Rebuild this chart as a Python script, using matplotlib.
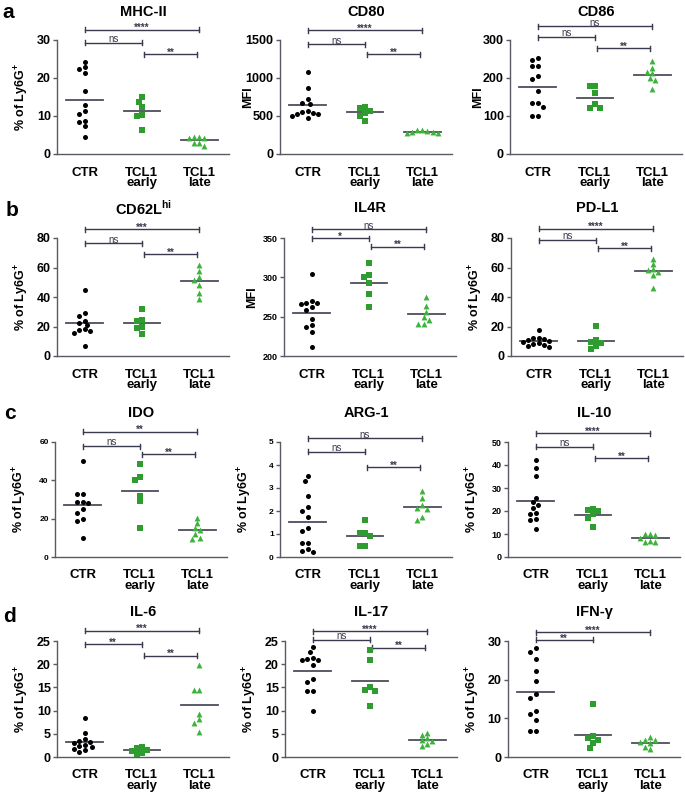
import matplotlib
matplotlib.use("Agg")
import matplotlib.pyplot as plt
import numpy as np

plt.rcParams['font.family'] = ['Liberation Sans', 'DejaVu Sans']
plt.rcParams['font.weight'] = 'bold'
plt.rcParams['mathtext.fontset'] = 'custom'
plt.rcParams['mathtext.rm'] = 'Liberation Sans:bold'
plt.rcParams['mathtext.bf'] = 'Liberation Sans:bold'

groups = ["CTR", "TCL1\nearly", "TCL1\nlate"]
PCT = "% of Ly6G$^{+}$"

# valores (CTR / TCL1 early / TCL1 late)
mhc2_ctr = [24.2, 22.8, 22.3, 21.2, 16.5, 12.9, 11.2, 10.5, 8.8, 8.5, 7.4, 4.5]
mhc2_early = [15.0, 13.8, 12.5, 10.3, 9.9, 6.2]
mhc2_late = [4.5, 4.2, 4.4, 4.3, 3.0, 2.1, 2.8]

cd80_ctr = [1080, 870, 720, 670, 660, 560, 550, 540, 530, 520, 500, 480]
cd80_early = [620, 610, 570, 540, 500, 440]
cd80_late = [320, 300, 290, 280, 280, 290, 310]

cd86_ctr = [252, 248, 232, 232, 206, 198, 166, 133, 134, 125, 99, 99]
cd86_early = [178, 178, 160, 132, 121, 121]
cd86_late = [244, 226, 212, 215, 200, 196, 170]

cd62l_ctr = [44.5, 29, 27, 24, 22.5, 21, 18, 17.5, 17, 15.5, 7]
cd62l_early = [32, 24.5, 23.5, 20, 15, 19]
cd62l_late = [62, 57.5, 53.5, 51.5, 48, 43, 38.5]

il4r_ctr = [304, 270, 268, 267, 266, 262, 258, 247, 240, 237, 231, 212]
il4r_early = [318, 303, 301, 293, 279, 262]
il4r_late = [275, 264, 256, 250, 246, 241, 241]

pdl1_ctr = [17.5, 12.5, 12, 11.5, 11, 10, 9.5, 9, 8, 7.5, 6.5, 6]
pdl1_early = [20.5, 11, 9.5, 8.5, 6.5, 5]
pdl1_late = [66, 62.5, 59, 58, 57, 55, 46]

ido_ctr = [50, 33, 33, 28.5, 28.5, 28, 25, 23, 19.7, 19, 10]
ido_early = [48.5, 42, 40, 32, 29, 15]
ido_late = [20.5, 17.5, 15, 14, 12, 10, 9.5]

arg1_ctr = [3.52, 3.32, 2.65, 2.18, 2.02, 1.72, 1.28, 1.15, 0.62, 0.6, 0.35, 0.28, 0.22]
arg1_early = [1.6, 1.05, 1.05, 0.9, 0.5, 0.5]
arg1_late = [2.87, 2.58, 2.26, 2.12, 2.1, 1.76, 1.59]

il10_ctr = [42.1, 38.9, 35.2, 25.6, 23.7, 22.7, 21.3, 19.1, 18.5, 16.7, 15.9, 12.2]
il10_early = [21, 20.5, 20, 18.5, 17, 13]
il10_late = [10.2, 9.9, 9.6, 8.3, 6.9, 6.6, 6.5]

il6_ctr = [8.4, 5.1, 3.9, 3.5, 3.2, 3.0, 2.6, 2.4, 2.2, 1.8, 1.5, 1.0]
il6_early = [2.2, 1.9, 1.5, 1.3, 0.9, 0.7]
il6_late = [19.9, 14.4, 14.4, 9.3, 8.2, 7.3, 5.3]

il17_ctr = [23.6, 22.6, 21.4, 21.2, 21.0, 20.8, 19.9, 16.8, 16.2, 14.3, 14.3, 9.9]
il17_early = [23.1, 20.8, 15, 14.4, 14.2, 11]
il17_late = [5.2, 4.8, 4.1, 3.6, 3.4, 2.9, 2.3]

ifng_ctr = [28.1, 27.2, 25.4, 22.3, 19.7, 16.3, 15.3, 12, 11.1, 9.6, 6.7, 6.7]
ifng_early = [13.7, 5.4, 4.9, 4.5, 3.6, 2.4]
ifng_late = [5.1, 4.5, 4.3, 3.9, 3.5, 2.5, 2.0]

titles = ["MHC-II", "CD80", "CD86", "CD62L$^{\\mathbf{hi}}$", "IL4R", "PD-L1",
          "IDO", "ARG-1", "IL-10", "IL-6", "IL-17", "IFN-γ"]
ylabels = [PCT, "MFI", "MFI", PCT, "MFI", PCT, PCT, PCT, PCT, PCT, PCT, PCT]
yticks = [[0, 10, 20, 30], [0, 500, 1000, 1500], [0, 100, 200, 300],
          [0, 20, 40, 60, 80], [200, 250, 300, 350], [0, 20, 40, 60, 80],
          [0, 20, 40, 60], [0, 1, 2, 3, 4, 5], [0, 10, 20, 30, 40, 50],
          [0, 5, 10, 15, 20, 25], [0, 5, 10, 15, 20, 25], [0, 10, 20, 30]]
series = [
    (mhc2_ctr, mhc2_early, mhc2_late), (cd80_ctr, cd80_early, cd80_late),
    (cd86_ctr, cd86_early, cd86_late), (cd62l_ctr, cd62l_early, cd62l_late),
    (il4r_ctr, il4r_early, il4r_late), (pdl1_ctr, pdl1_early, pdl1_late),
    (ido_ctr, ido_early, ido_late), (arg1_ctr, arg1_early, arg1_late),
    (il10_ctr, il10_early, il10_late), (il6_ctr, il6_early, il6_late),
    (il17_ctr, il17_early, il17_late), (ifng_ctr, ifng_early, ifng_late),
]
# significancia: (CTR vs late, CTR vs early, early vs late)
sig = [("****", "ns", "**"), ("****", "ns", "**"), ("ns", "ns", "**"),
       ("***", "ns", "**"), ("ns", "*", "**"), ("****", "ns", "**"),
       ("**", "ns", "**"), ("ns", "ns", "**"), ("****", "ns", "**"),
       ("***", "**", "**"), ("****", "ns", "**"), ("****", "**", None)]

# layout (pixels)
W, H = 685, 792
row_px = [(40, 154), (238, 356), (442, 557), (641, 757)]
left_px = [(57, 280, 510), (57, 284, 511), (55, 280, 508), (57, 285, 508)]
AX_W = 172
bracket_y = [(1.088, 0.976, 0.877), (1.087, 0.963, 0.876), (1.12, 1.026, 0.928),
             (1.076, 0.955, 0.864), (1.073, 1.0, 0.927), (1.08, 0.983, 0.912),
             (1.09, 0.965, 0.893), (1.032, 0.916, 0.78), (1.078, 0.96, 0.86),
             (1.087, 0.974, 0.872), (1.084, 1.009, 0.942), (1.077, 1.009, None)]
tick_fs = [9, 9, 9, 9, 6.5, 9, 6, 6, 6.5, 9, 9, 9]
letters = [("a", 8, 13), ("b", 12, 210), ("c", 10, 413), ("d", 10, 617)]

DARK = "#3a3a4e"
GREEN_SQ = "#2e9c2e"
GREEN_TR = "#3db33d"
styles = [dict(marker="o", color="black", s=13),
          dict(marker="s", color=GREEN_SQ, s=17),
          dict(marker="^", color=GREEN_TR, s=18)]


def swarm(vals, px_per_unit, step=0.09, min_px=5.0, cat_px=57.5):
    vals = np.asarray(vals, dtype=float)
    offs = np.zeros(len(vals))
    placed = []
    for i in np.argsort(vals)[::-1]:
        cands = [0.0]
        for k in range(1, 12):
            cands += [-k * step / 2, k * step / 2]
        for c in cands:
            ok = True
            for (ox, oy) in placed:
                dx = (c - ox) * cat_px
                dy = (vals[i] - oy) * px_per_unit
                if dx * dx + dy * dy < min_px * min_px:
                    ok = False
                    break
            if ok:
                offs[i] = c
                placed.append((c, vals[i]))
                break
    return offs


fig = plt.figure(figsize=(W / 100, H / 100), dpi=100)

for idx in range(12):
    r, c = divmod(idx, 3)
    top, bot = row_px[r]
    left = left_px[r][c]
    ax = fig.add_axes([left / W, 1 - bot / H, AX_W / W, (bot - top) / H])
    yt = yticks[idx]
    ymin, ymax = yt[0], yt[-1]
    ppu = (bot - top) / (ymax - ymin)

    for g, vals in enumerate(series[idx]):
        offs = swarm(vals, ppu)
        ax.scatter(g + offs, vals, linewidths=0, zorder=3, clip_on=False, **styles[g])
        m = np.mean(vals)
        ax.plot([g - 0.32, g + 0.32], [m, m], color="#4d4d5e", lw=1.3, zorder=2)

    ax.set_xlim(-0.48, 2.52)
    ax.set_ylim(ymin, ymax)
    ax.set_yticks(yt)
    ax.set_xticks([0, 1, 2])
    ax.set_xticklabels(groups, fontsize=9.5, fontweight="bold", linespacing=0.85)
    for sp in ["top", "right"]:
        ax.spines[sp].set_visible(False)
    for sp in ["left", "bottom"]:
        ax.spines[sp].set_color("#5a5a66")
        ax.spines[sp].set_linewidth(1)
    ax.tick_params(axis="y", length=3, width=1, color="#5a5a66", pad=1.5,
                   labelsize=tick_fs[idx])
    ax.tick_params(axis="x", length=0, pad=9)
    ax.set_ylabel(ylabels[idx], fontsize=9, fontweight="bold")
    ax.yaxis.set_label_coords(-0.15, 0.5)

    ax.text(0.5, 1.25, titles[idx], transform=ax.transAxes, ha="center",
            va="center", fontsize=10.5, fontweight="bold")

    # brackets
    tr = ax.get_xaxis_transform()
    pairs = [(0, 2), (0, 1), (1.03, 1.97)]
    tk = 2.5 / (bot - top)
    for (x0, x1), yb, lab in zip(pairs, bracket_y[idx], sig[idx]):
        if lab is None:
            continue
        ax.plot([x0, x1], [yb, yb], color=DARK, lw=1, transform=tr, clip_on=False)
        for xe in (x0, x1):
            ax.plot([xe, xe], [yb - tk, yb + tk], color=DARK, lw=1,
                    transform=tr, clip_on=False)
        dy = -0.012 if "*" in lab else 0.006
        ax.text((x0 + x1) / 2, yb + dy, lab, transform=tr, ha="center",
                va="baseline", fontsize=7, color=DARK,
                fontweight="bold" if "*" in lab else "normal")

for lab, x, y in letters:
    fig.text(x / W, 1 - y / H, lab, fontsize=15, fontweight="bold",
             ha="center", va="center")

fig.savefig("out.png", dpi=100)
